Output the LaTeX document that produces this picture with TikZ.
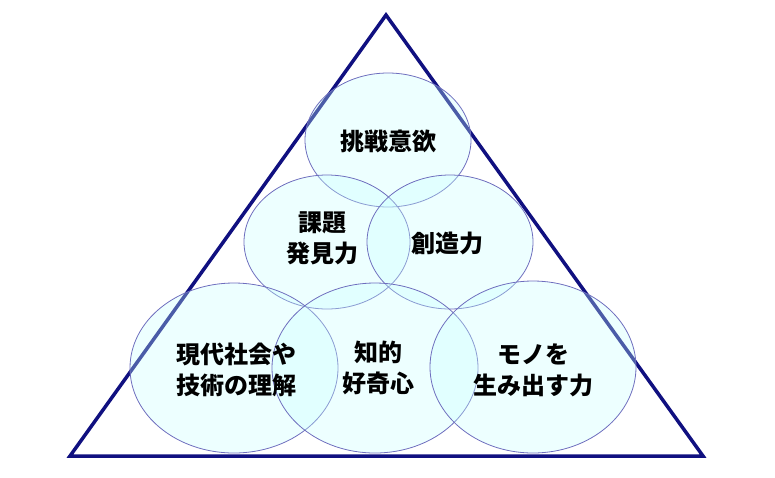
\documentclass[tikz,border=0pt]{standalone}
\usepackage{fontspec}
\setmainfont{Noto Sans CJK JP}
\definecolor{trinavy}{RGB}{16,16,128}
\definecolor{ellline}{RGB}{110,110,190}
\definecolor{ellfill}{RGB}{200,255,255}
\begin{document}
\begin{tikzpicture}[x=1pt,y=-1pt,
  tri/.style={draw=trinavy,line width=3.5pt,line join=miter},
  bub/.style={draw=ellline,line width=0.8pt,fill=ellfill,fill opacity=0.32,draw opacity=1},
  lbl/.style={font=\fontsize{24}{31}\selectfont\bfseries,align=center,text=black,inner sep=0pt}]
\useasboundingbox (0,0) rectangle (775,477);
\coordinate (A) at (386,15);
\coordinate (B) at (70,456);
\coordinate (C) at (703,456);
\draw[tri] (A) -- (B) -- (C) -- cycle;
\draw[bub] (388,140) ellipse [x radius=83,y radius=67];
\draw[bub] (327,242) ellipse [x radius=83,y radius=67];
\draw[bub] (450,242) ellipse [x radius=83,y radius=67];
\draw[bub] (234,368) ellipse [x radius=104,y radius=85];
\draw[bub] (375,368) ellipse [x radius=103,y radius=85];
\draw[bub] (533,367) ellipse [x radius=103,y radius=86];
\node[lbl] (t1) at (388,141) {挑戦意欲};
\node[lbl] (t2) at (322,238) {課題\\発見力};
\node[lbl] (t3) at (447,243) {創造力};
\node[lbl] (t4) at (236,370) {現代社会や\\技術の理解};
\node[lbl] (t5) at (378,368) {知的\\好奇心};
\node[lbl] (t6) at (533,370) {モノを\\生み出す力};
\end{tikzpicture}
\end{document}
